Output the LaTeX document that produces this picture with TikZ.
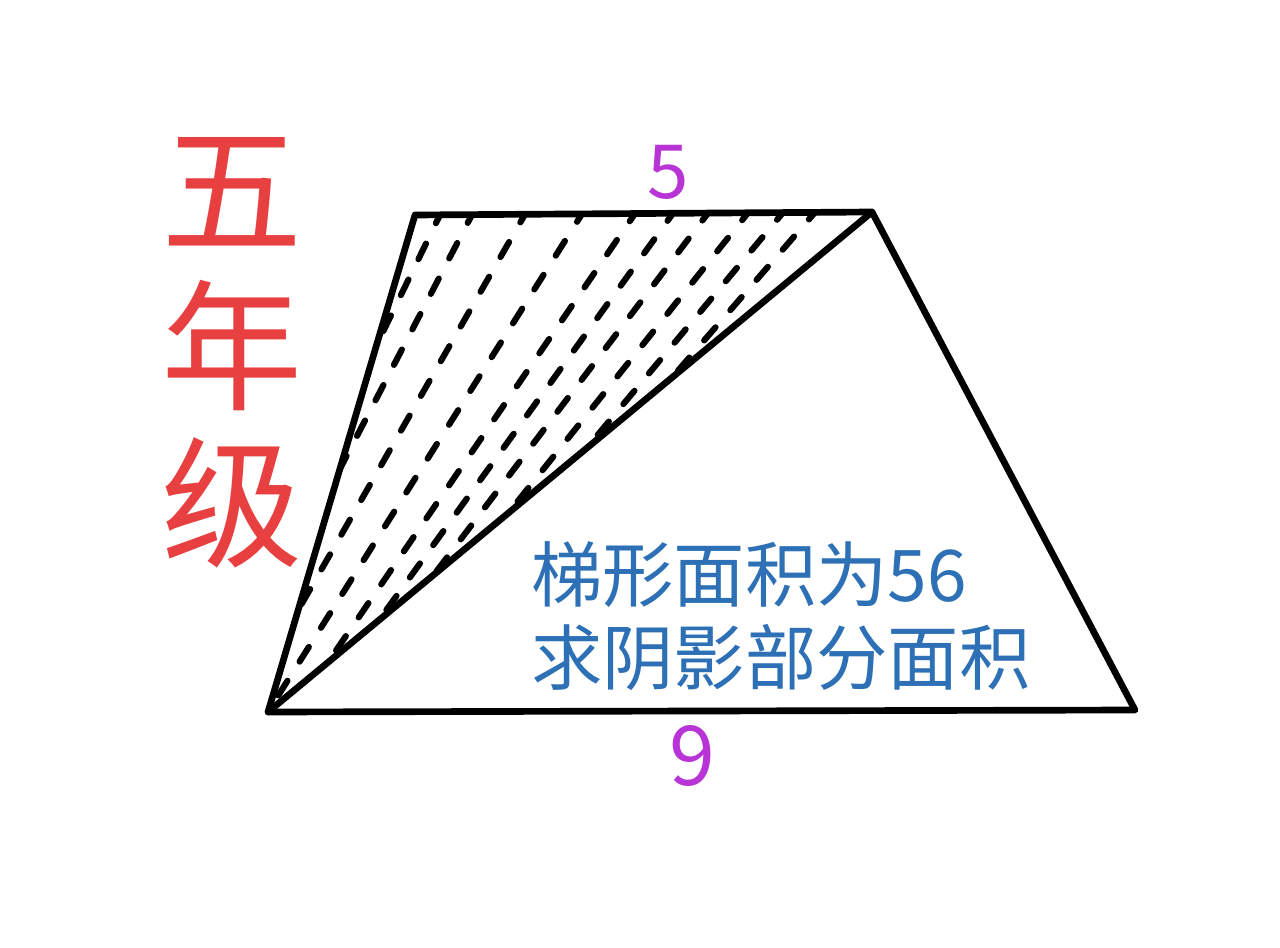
\documentclass[tikz,border=0pt]{standalone}
\usepackage{fontspec}
\newfontfamily\cjk{Noto Sans CJK SC}
\usetikzlibrary{calc}
\definecolor{redtxt}{RGB}{232,64,64}
\definecolor{bluetxt}{RGB}{46,112,182}
\definecolor{magtxt}{RGB}{184,52,214}
\tikzset{
  edge/.style={line width=5pt, line join=round, line cap=round},
  hatch/.style={line width=4.6pt, line cap=round, dash pattern=on 13pt off 17pt},
  redchar/.style={inner sep=0pt, text=redtxt, font=\cjk\fontsize{106}{106}\selectfont},
  bluetext/.style={inner sep=0pt, anchor=west, text=bluetxt, font=\cjk\fontsize{53.5}{53.5}\selectfont},
  numlabel/.style={inner sep=0pt, text=magtxt}
}
\begin{document}
\begin{tikzpicture}[x=0.75pt,y=-0.75pt]
\useasboundingbox[fill=white] (0,0) rectangle (1280,948);
\coordinate (A) at (415,215);
\coordinate (B) at (872,212);
\coordinate (C) at (1135,710);
\coordinate (D) at (268,712);
\coordinate (P) at (-40,1200);
\begin{scope}
  \clip (A) -- (B) -- (D) -- cycle;
  \foreach \xx in {440,472,525,582,635,673,708,748,783,815} {
    \coordinate (T) at ($(A)!{(\xx-415)/457}!(B)$);
    \draw[hatch] ($(T)!-6pt!(P)$) -- (P);
  }
\end{scope}
\draw[edge] (A) -- (B) -- (C) -- (D) -- cycle;
\draw[edge] (D) -- (B);
\node[redchar] (w1) at (232,192) {五};
\node[redchar] (w2) at (232,346) {年};
\node[redchar] (w3) at (232,503) {级};
\node[numlabel, font=\cjk\fontsize{56}{56}\selectfont] (top) at (668,172) {5};
\node[numlabel, font=\cjk\fontsize{62}{62}\selectfont] (bot) at (692,756) {9};
\node[bluetext] (l1) at (531,575) {梯形面积为56};
\node[bluetext] (l2) at (531,657) {求阴影部分面积};
\end{tikzpicture}
\end{document}
